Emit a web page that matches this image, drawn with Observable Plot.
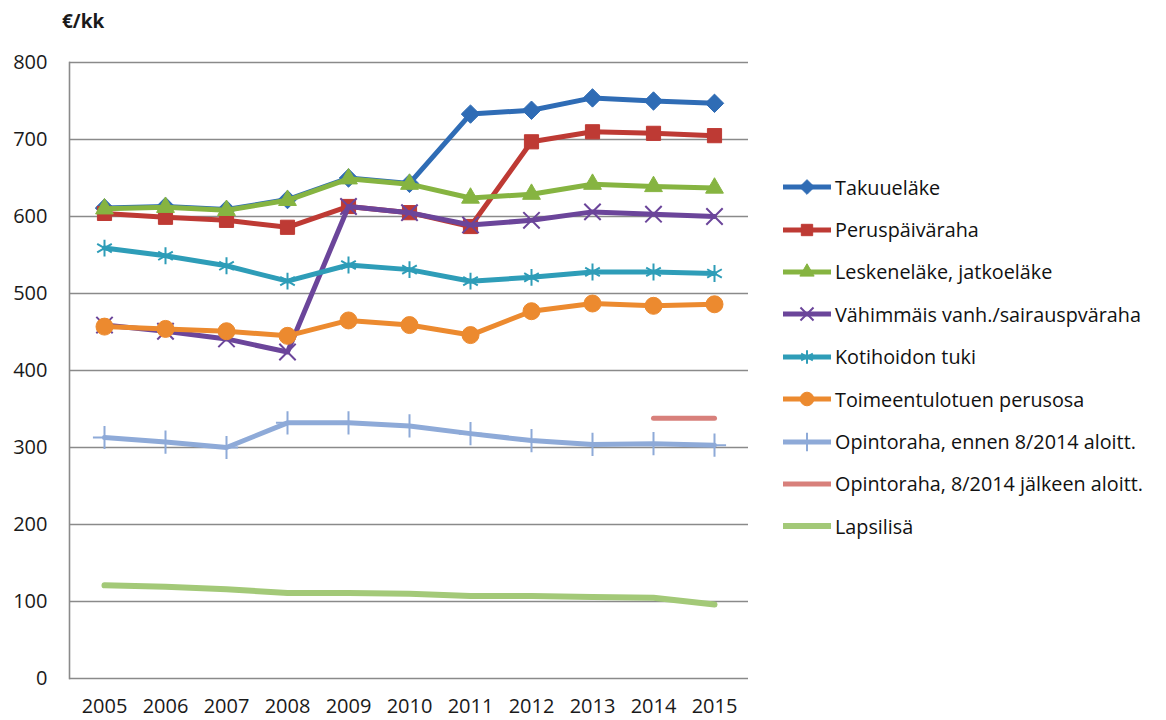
<!DOCTYPE html>
<html><head><meta charset="utf-8">
<script src="https://cdn.jsdelivr.net/npm/d3@7"></script>
<script src="https://cdn.jsdelivr.net/npm/@observablehq/plot@0.6"></script>
<style>
body{margin:0;background:#fff;font-family:"Open Sans",sans-serif;}
#wrap{position:relative;width:1166px;height:720px;overflow:hidden;}
#unit{position:absolute;left:62px;top:8px;font-weight:bold;font-size:19px;color:#1a1a1a;}
#chart{position:absolute;left:0;top:0;}
#legend{position:absolute;left:782px;top:166px;}
.item{display:flex;align-items:center;height:42.4px;font-size:19.8px;color:#111;white-space:nowrap;}
.item svg{margin-right:3px;}
</style></head><body>
<div id="wrap"><div id="chart"></div><div id="unit">€/kk</div><div id="legend"></div></div>
<script>
const years = ["2005","2006","2007","2008","2009","2010","2011","2012","2013","2014","2015"];
const seriesNames = ["Takuueläke","Peruspäiväraha","Leskeneläke, jatkoeläke","Vähimmäis vanh./sairauspväraha","Kotihoidon tuki","Toimeentulotuen perusosa","Opintoraha, ennen 8/2014 aloitt.","Opintoraha, 8/2014 jälkeen aloitt.","Lapsilisä"];
const takuu        = [611, 613, 609, 622, 650, 643, 733, 738, 754, 750, 747];
const perus        = [604, 599, 595, 586, 613, 605, 587, 697, 710, 708, 705];
const leske        = [610, 612, 608, 621, 649, 642, 624, 629, 642, 639, 637];
const vahimmais    = [459, 451, 441, 424, 613, 605, 589, 595, 606, 603, 600];
const kotihoito    = [559, 549, 536, 516, 537, 531, 516, 521, 528, 528, 526];
const toimeentulo  = [457, 454, 451, 445, 465, 459, 446, 477, 487, 484, 486];
const opintoEnnen  = [313, 307, 300, 332, 332, 328, 318, 309, 304, 305, 303];
const opintoJalk   = [null, null, null, null, null, null, null, null, null, 338, 338];
const lapsilisa    = [121, 119, 116, 111, 111, 110, 107, 107, 106, 105, 96];
const seriesValues = [takuu, perus, leske, vahimmais, kotihoito, toimeentulo, opintoEnnen, opintoJalk, lapsilisa];
const colors = ["#2f6cb5","#be3a34","#86b441","#6b459a","#2e9db8","#ec8a2f","#8eaad8","#d8807b","#a3c978"];
const symbols = ["diamond2","square","triangle2","times","asterisk","circle","plus",null,null];
const filledSym = {"diamond2":true,"square":true,"triangle2":true,"circle":true};
const markerR = {"diamond2":8.3,"square":8,"triangle2":8.5,"times":7.5,"asterisk":8,"circle":8.5,"plus":7.5};
const lineW = [5,5,5,5,5,5,5,5,6];

const tables = seriesValues.map((vals, i) => years.map((y, j) => ({year: y, value: vals[j], series: seriesNames[i]})));

const marks = [
  Plot.gridY([0,100,200,300,400,500,600,700,800], {stroke:"#8a8a8a", strokeOpacity:1, strokeWidth:1.6}),
  Plot.frame({anchor:"left", stroke:"#8a8a8a", strokeWidth:1.6}),
  Plot.axisY({ticks:[0,100,200,300,400,500,600,700,800], tickSize:0, tickPadding:22, label:null, fontSize:20, fill:"#1a1a1a"}),
  Plot.axisX({tickSize:0, tickPadding:20, label:null, fontSize:20, fill:"#1a1a1a"})
];
tables.forEach((t, i) => {
  marks.push(Plot.line(t, {x:"year", y:"value", stroke:colors[i], strokeWidth:lineW[i], curve:"linear", strokeLinejoin:"round", strokeLinecap:"round"}));
  const s = symbols[i];
  if (s) {
    const filled = filledSym[s];
    marks.push(Plot.dot(t.filter(d => d.value != null), {
      x:"year", y:"value", symbol: () => s, r: markerR[s],
      fill: filled ? colors[i] : "none", stroke: colors[i], strokeWidth: filled ? 1 : 2
    }));
  }
});

const chart = Plot.plot({
  width: 1166, height: 720,
  marginLeft: 69, marginRight: 418, marginTop: 62, marginBottom: 42,
  style: {fontFamily: "'Open Sans', sans-serif", background: "#fff"},
  x: {type:"point", domain: years, padding: 0.5},
  y: {domain:[0,800]},
  symbol: {type:"identity"},
  marks
});
document.getElementById("chart").appendChild(chart);

// Legend
const legend = d3.select("#legend");
seriesNames.forEach((name, i) => {
  const it = legend.append("div").attr("class","item");
  const svg = it.append("svg").attr("width",50).attr("height",20);
  svg.append("line").attr("x1",1).attr("x2",49).attr("y1",10).attr("y2",10)
    .attr("stroke",colors[i]).attr("stroke-width",lineW[i]);
  const s = symbols[i];
  if (s) {
    const map = {"diamond2":d3.symbolDiamond2,"square":d3.symbolSquare,"triangle2":d3.symbolTriangle2,"times":d3.symbolTimes,"asterisk":d3.symbolAsterisk,"circle":d3.symbolCircle,"plus":d3.symbolPlus};
    const filled = filledSym[s];
    const r = markerR[s] * 0.8;
    svg.append("path").attr("transform","translate(25,10)")
      .attr("d", d3.symbol(map[s], r*r*Math.PI)())
      .attr("fill", filled ? colors[i] : "none").attr("stroke", colors[i]).attr("stroke-width", filled ? 1 : 2);
  }
  it.append("span").text(name);
});
</script>
</body></html>
